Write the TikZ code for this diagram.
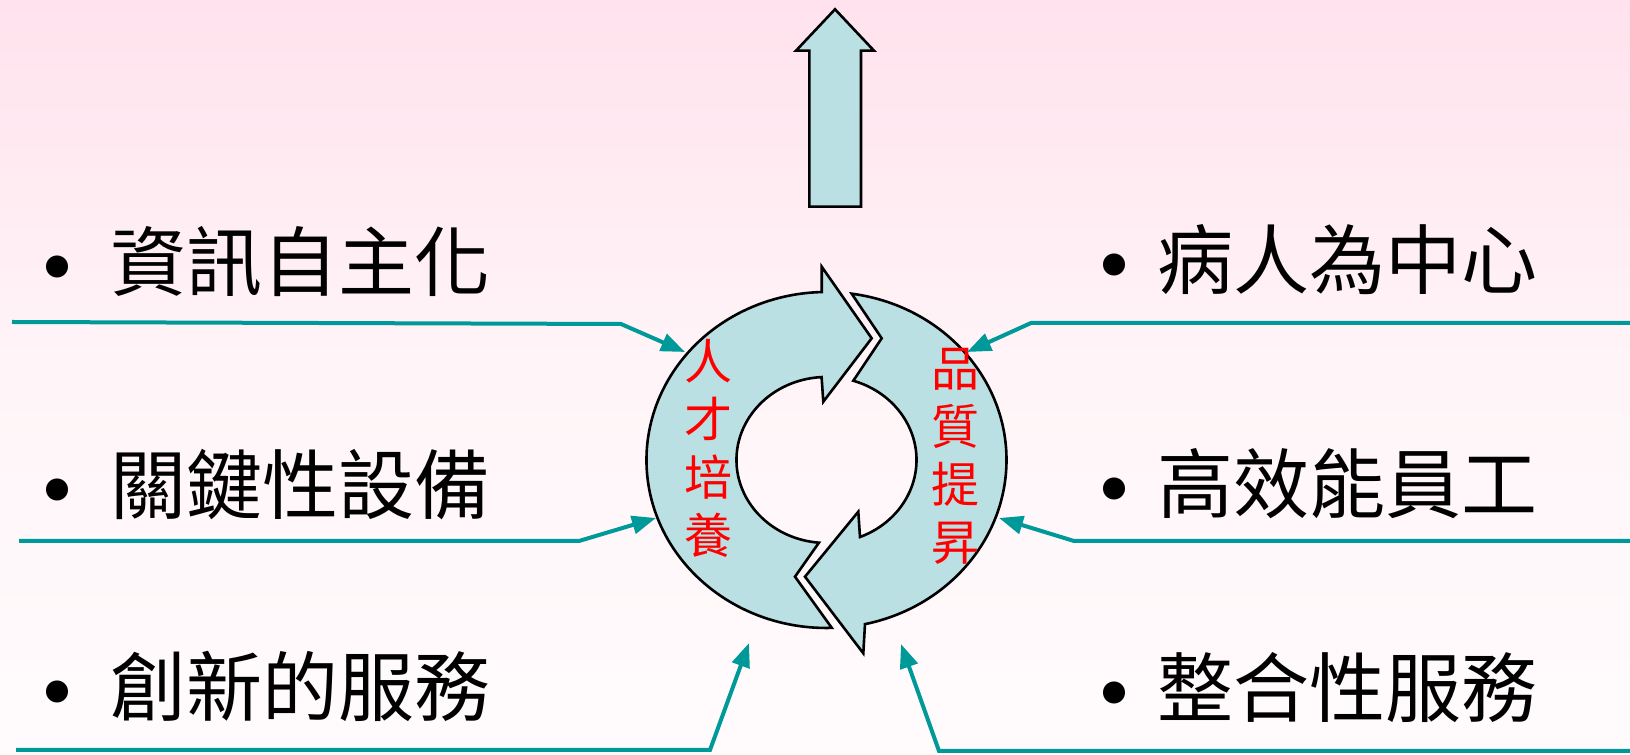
\documentclass[tikz,border=0pt]{standalone}
\usepackage{fontspec}
\newfontfamily\cjk{Noto Sans CJK TC}
\usetikzlibrary{arrows.meta}

\definecolor{ringblue}{RGB}{187,224,227}
\definecolor{feedteal}{RGB}{0,153,153}
\definecolor{bgtop}{RGB}{255,226,237}
\definecolor{bgmid}{RGB}{255,245,248}
\definecolor{bgbot}{RGB}{255,251,252}

\newcommand{\bigdot}[1]{\makebox[#1][l]{\hspace{-21.5pt}\raisebox{-8pt}{\fontsize{52}{52}\selectfont •}}}

\begin{document}
\begin{tikzpicture}[x=0.5pt,y=0.5pt]
        \tikzstyle{cyc}=[draw=black, line width=1.3pt, fill=ringblue]
        \tikzstyle{feed}=[draw=feedteal, line width=2pt, -{Triangle[length=12pt,width=9pt]}]
        \tikzstyle{item}=[anchor=west, inner sep=0pt, font=\cjk\fontsize{38}{40}\selectfont]
        \tikzstyle{ringtext}=[align=center, inner sep=0pt, text=red, font=\cjk\fontsize{24}{29}\selectfont]

        \shade[top color=bgtop, bottom color=bgbot, middle color=bgmid] (0,0) rectangle (1630,755);
        \useasboundingbox (0,0) rectangle (1630,755);

        % arrow up
        \draw[cyc] (835,745.7) -- (874,704.3) -- (861,704.3) -- (861,548.3)
                -- (809.3,548.3) -- (809.3,704.3) -- (796,704.3) -- cycle;

        % the two turning arrows
        \draw[cyc] (831.8,127.1) arc[start angle=271.7, end angle=91.5, x radius=90pt, y radius=84pt]
                -- (821.7,488.3) -- (871.7,416.7) -- (823.3,353.3) -- (821.6,377.9)
                arc[start angle=93.1, end angle=265.2, x radius=45pt, y radius=41.5pt]
                -- (795,178.3) -- cycle;
        \draw[cyc] (851.7,461.3) arc[start angle=81.95, end angle=-77.65, x radius=90pt, y radius=84pt]
                -- (863.3,101.7) -- (805,178.3) -- (858.3,243.3) -- (860,218)
                arc[start angle=-68.15, end angle=72.67, x radius=45pt, y radius=41.5pt]
                -- (881.7,416.7) -- cycle;

        \node[ringtext] (train) at (708,307) {人\\才\\培\\養};
        \node[ringtext] (quality) at (955,299) {品\\質\\提\\昇};

        % items
        \node[item] (info)   at (48,489) {\bigdot{31pt}資訊自主化};
        \node[item] (equip)  at (48,266) {\bigdot{31pt}關鍵性設備};
        \node[item] (innov)  at (48,64)  {\bigdot{31pt}創新的服務};
        \node[item] (patient) at (1105,490) {\bigdot{26pt}病人為中心};
        \node[item] (staff)  at (1105,267) {\bigdot{26pt}高效能員工};
        \node[item] (integ)  at (1105,63)  {\bigdot{26pt}整合性服務};

        % feeding lines
        \coordinate (l1s) at (12,433);   \coordinate (l1b) at (621,431);  \coordinate (l1t) at (685,403);
        \coordinate (l2s) at (19,214);   \coordinate (l2b) at (579,214);  \coordinate (l2t) at (656,237);
        \coordinate (l3s) at (16,5);     \coordinate (l3b) at (710,5);    \coordinate (l3t) at (749,112);
        \coordinate (r1s) at (1630,432); \coordinate (r1b) at (1031,432); \coordinate (r1t) at (967,403);
        \coordinate (r2s) at (1630,214); \coordinate (r2b) at (1074,214); \coordinate (r2t) at (999,237);
        \coordinate (r3s) at (1630,4);   \coordinate (r3b) at (939,4);    \coordinate (r3t) at (901,111);

        \draw[feed] (l1s) -- (l1b) -- (l1t);
        \draw[feed] (l2s) -- (l2b) -- (l2t);
        \draw[feed] (l3s) -- (l3b) -- (l3t);
        \draw[feed] (r1s) -- (r1b) -- (r1t);
        \draw[feed] (r2s) -- (r2b) -- (r2t);
        \draw[feed] (r3s) -- (r3b) -- (r3t);
\end{tikzpicture}
\end{document}
